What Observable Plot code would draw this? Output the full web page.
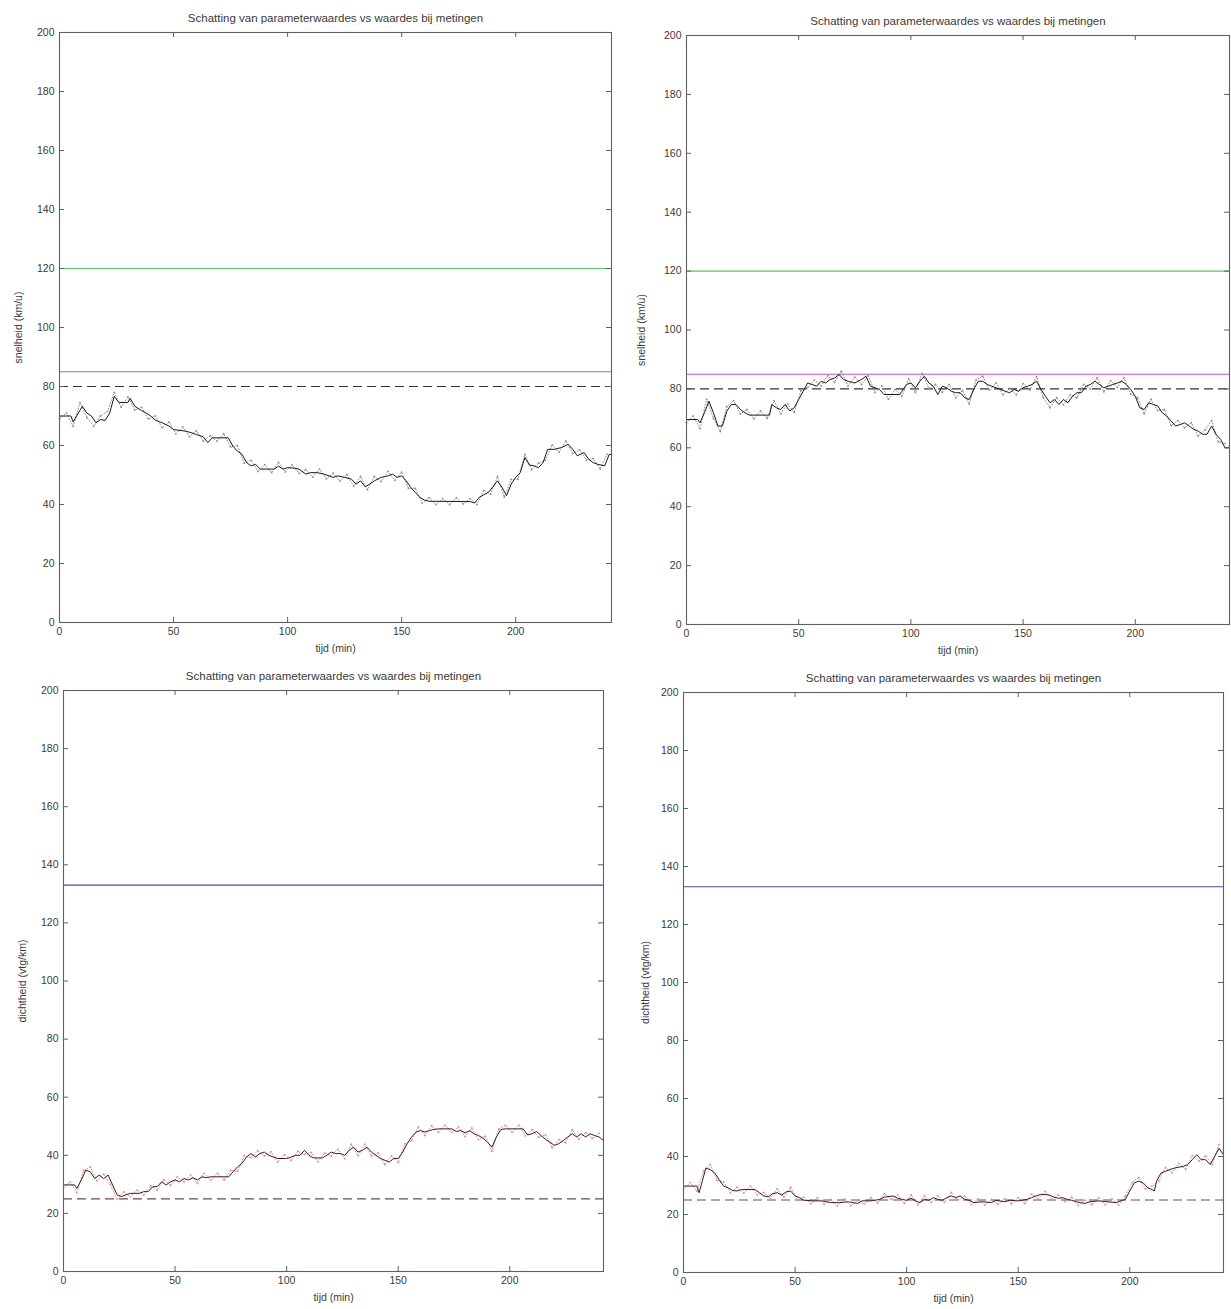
<!DOCTYPE html>
<html>
<head>
<meta charset="utf-8">
<script src="https://cdn.jsdelivr.net/npm/d3@7"></script>
<script src="https://cdn.jsdelivr.net/npm/@observablehq/plot@0.6"></script>
<style>
  body { margin: 0; background: #fff; }
  #fig { position: relative; width: 1231px; height: 1309px; overflow: hidden; }
  .paneel { position: absolute; }
</style>
</head>
<body>
<div id="fig"></div>
<script>
// ---- assen ----
const xTicks = [0, 50, 100, 150, 200];
const yTicks = [0, 20, 40, 60, 80, 100, 120, 140, 160, 180, 200];
const tijdDomein = [0, 242];
const waardeDomein = [0, 200];
const titel = "Schatting van parameterwaardes vs waardes bij metingen";
const xLabel = "tijd (min)";
const yLabelSnelheid = "snelheid (km/u)";
const yLabelDichtheid = "dichtheid (vtg/km)";

// ---- vaste parameters ----
const vrijeSnelheid = 120;          // groen
const kritiekeSnelheidModel = 85;   // magenta
const kritiekeSnelheid = 80;        // gestreept
const jamDichtheid = 133;           // blauw
const kritiekeDichtheid = 25;       // gestreept

// ---- meettijden (elke 3 minuten) ----
const meetTijden = d3.range(0, 241, 3);

// ---- snelheid, links: schatting [tijd, waarde] ----
const snelheidSchattingA = [[0,70],[5,70],[6,68],[10,73.3],[12,71],[14,70],[16,67.7],[18,68.8],[20,68.5],[22,71],[24,76.7],[26,74.6],[30,74.6],[31,76],[33,73.3],[36,71.8],[38,71],[40,70],[42,68.6],[45,67.7],[48,66.6],[50,65.4],[55,64.9],[58,64.3],[60,63.7],[63,63],[65,61],[67,62.6],[74,62.6],[76,59.8],[78,58.1],[80,57],[82,54.2],[84,53.1],[86,53.6],[88,52],[94,52],[96,53],[98,52],[100,52.5],[103,52.3],[105,52],[108,50.3],[110,50.8],[113,50.8],[116,50.3],[120,49.2],[122,49.7],[125,49.2],[128,48.6],[130,46.9],[132,48],[134,46],[136,46.9],[138,48],[141,49.2],[144,49.7],[146,50.3],[148,49.2],[150,49.7],[152,48],[154,45.8],[156,44.1],[158,42.4],[160,41.5],[162,41.1],[180,41],[182,40.5],[184,42.4],[186,43.3],[188,44.1],[190,46],[192,48],[194,45.8],[196,43],[198,46.9],[200,49.2],[202,50.8],[204,55.9],[206,53.4],[208,53.1],[210,52.5],[212,54.2],[214,58.7],[217,58.7],[220,59.3],[223,60.4],[225,58.7],[227,56.5],[230,57.6],[232,55.3],[234,54.2],[236,53.6],[239,53.1],[241,57],[242,57]];
// metingen, elke 3 minuten
const snelheidMetingA = [69,71,66.5,74.5,69.5,66.5,70,71.5,78,73,76.5,72,73,69,70,66,68,64,66.3,63,65,61.5,63.3,61.5,64,59.5,60,54,55,51.2,53.5,50.8,54.3,51,53.5,50.5,51.8,49.3,52,48.7,50.6,48,50.2,46.2,49.5,45,49.5,47.8,51.2,48.2,51,45.5,45.5,40.5,42.3,40,42,40,42.2,40.2,42,40,44.8,43.5,49.5,42.5,48.5,48.6,57,51.8,54,55,60.2,57.7,61.6,57.3,58.5,55,55.6,52,57];

// ---- snelheid, rechts ----
const snelheidSchattingB = [[0,69.6],[5,69.6],[6,68.5],[8,71.9],[10,75.8],[12,71.9],[14,67.4],[16,67.4],[18,72.5],[20,74.7],[22,74.7],[24,73],[26,71.9],[28,71.1],[37,71.1],[38,74.7],[40,73.6],[42,73],[44,74.7],[46,72.5],[48,73.6],[50,76.4],[52,79.2],[54,82],[56,81.5],[58,80.9],[60,82.6],[62,82],[64,83.2],[66,83.7],[68,84.9],[70,83.2],[72,82.6],[75,82],[78,83.2],[80,84.3],[82,80.9],[84,80.4],[86,79.8],[88,78.1],[95,78.1],[96,79.2],[98,81.5],[100,82],[102,80.4],[104,82.6],[106,84.3],[108,82],[110,80.9],[112,78.1],[114,80.9],[116,80.4],[118,79.2],[120,78.7],[122,78.7],[124,77],[126,76.4],[128,79.8],[130,82.6],[132,82.6],[134,81.5],[136,80.9],[138,80.4],[140,79.8],[142,79.2],[144,78.7],[146,79.8],[148,79.2],[150,80.4],[152,80.9],[154,81.5],[156,82.6],[158,79.8],[160,77.5],[162,75.3],[164,76.4],[166,74.7],[168,76.4],[170,75.3],[172,77.5],[174,78.7],[176,78.7],[178,80.9],[180,81.5],[182,82.6],[184,81.5],[186,80.4],[188,80.9],[190,81.5],[192,82],[194,82.6],[196,81.5],[198,79.8],[200,77.5],[202,73.6],[204,73],[206,75.3],[208,74.7],[210,74.2],[212,71.9],[214,70.8],[216,69.1],[218,67.4],[220,67.9],[222,68.5],[224,67.4],[226,66.3],[228,65.7],[230,64.6],[232,64.6],[234,67.4],[236,64.6],[238,62.9],[240,60],[242,60]];
const snelheidMetingB = [68.5,70.8,66.5,76.5,70,65.5,74,76,71.5,73,69.8,72.5,70,76,71.5,75,72,79.5,80.5,83,81,84.5,82.2,86,81,84,81.5,84.5,78.8,81,76.5,79.8,77.5,83.5,78.8,85.3,80.2,81.5,78.8,81.5,77,79.5,74.8,83,84.3,79.6,82,78,80.2,78,81.8,79.6,84.2,77,73.6,77,74.6,78,77,81.5,80,83.8,79,82.8,80.5,83.8,78.2,77,71.5,76.5,72.6,73,67.5,69.2,66.8,68.5,64,66,69.2,62,61.5];

// ---- dichtheid, links ----
const dichtheidSchattingA = [[0,29.8],[5,29.8],[6,28.6],[8,31.5],[10,34.9],[12,34.3],[14,32],[16,33.2],[18,32],[20,33.2],[22,29.8],[24,26.4],[26,25.8],[28,26.4],[30,26.9],[34,26.9],[36,27.5],[38,27.5],[40,29.2],[42,29.2],[44,30.9],[46,29.8],[48,30.9],[50,31.5],[52,30.9],[54,32],[56,31.5],[58,32.3],[60,31.5],[62,32.6],[64,32.3],[66,32.6],[74,32.6],[76,34.3],[78,36],[80,37.2],[82,39.4],[84,40.6],[86,39.4],[88,40.6],[90,41.1],[92,40],[94,39.4],[96,38.9],[100,38.9],[102,39.4],[104,40],[106,40],[108,41.7],[110,40],[112,39.1],[116,39.1],[118,40],[120,41.1],[122,40.6],[124,40.6],[126,40],[128,41.7],[130,42.8],[132,41.1],[134,41.7],[136,42.8],[138,41.1],[140,40],[142,38.9],[144,38.3],[146,37.7],[148,38.9],[150,38.9],[152,41.1],[154,44],[156,46.3],[158,48],[160,48.5],[162,48],[164,48.5],[166,48.9],[168,49.1],[174,49.1],[176,48.2],[178,48.5],[180,47.7],[182,48.5],[184,47.4],[186,46.8],[188,45.9],[190,44.5],[192,42.8],[194,46.3],[196,48.9],[198,49.1],[206,49.1],[208,47],[210,47.4],[212,48.2],[214,46.8],[216,45.5],[218,44.5],[220,43.4],[222,44],[224,45.1],[226,46.3],[228,47.4],[230,46.3],[232,47.4],[234,46.3],[236,47.4],[238,46.8],[240,46.3],[242,45.1]];
const dichtheidMetingA = [28.8,30.8,27.2,34.8,36,31.2,33.6,30,25,27.4,25.8,28,26.3,29.6,28,31.6,29.6,32.6,30.8,33.2,30.3,33.8,31.4,33.8,31.5,34.8,34.5,39.8,39.2,41.6,39.8,41.2,37.7,40.2,38.2,41.4,40.3,41,37.8,40.8,39.8,42,38.8,43.8,39.8,43.8,39.8,40.8,36.8,39.8,37.5,44,45,49.8,46.8,50.2,47.9,50.4,47.9,49.8,46.4,49.4,45.4,46.6,41.4,49,50.3,47.9,50.4,46.7,48.8,46.2,47,42.6,45.4,44.3,48.8,45.5,47.8,45.8,47.6];

// ---- dichtheid, rechts ----
const dichtheidSchattingB = [[0,29.8],[6,29.8],[7,27.5],[8,30.3],[10,36],[12,35.5],[14,34.3],[16,32],[18,29.8],[20,29.2],[22,28.3],[24,28.1],[26,28.6],[32,28.6],[34,27.5],[36,26.4],[38,26.1],[40,27.2],[42,27.5],[44,26.7],[46,27.8],[48,28.1],[50,26.4],[52,25.8],[54,24.9],[58,24.7],[62,24.7],[66,24.1],[70,24.1],[74,24.4],[78,23.8],[80,24.7],[84,24.7],[88,25.2],[90,26],[94,26.4],[96,25.6],[98,25.2],[100,24.9],[102,25.6],[104,24.7],[106,24.1],[108,25.2],[110,24.9],[112,25.8],[114,25.2],[116,24.9],[118,25.8],[120,26.4],[122,25.8],[124,26.4],[126,25.2],[128,24.9],[130,24.1],[134,24.4],[138,24.1],[140,24.9],[144,24.4],[146,24.9],[150,24.7],[154,25.2],[156,25.8],[158,26.4],[160,26.9],[162,26.9],[164,26.7],[166,26],[168,25.6],[170,25.8],[172,25.2],[174,24.9],[176,24.4],[178,24.1],[180,23.8],[182,24.4],[186,24.7],[190,24.4],[194,24.1],[196,24.7],[198,25.2],[200,28.1],[202,30.9],[204,31.5],[206,30.9],[208,29.2],[210,28.6],[211,28.1],[212,31.5],[214,34.3],[216,34.9],[218,35.5],[220,36],[222,36.3],[224,36.6],[226,37.2],[228,38.9],[230,40.6],[232,38.9],[234,38.9],[236,37.2],[238,40],[240,42.8],[242,40.6]];
const dichtheidMetingB = [28.6,31,28,35,37.2,31.8,31.2,27.5,29.4,27.4,29.8,26.8,27.6,25.5,28.8,26,29.4,25,26,23.7,25.8,23.5,25.2,23,25.3,23,24.8,23.6,25.8,24,27.2,25.2,26.8,23.8,26.8,23.3,26.4,24.2,26.4,24.2,27.6,25,26.4,23.4,25.4,23.2,25.2,23.5,25.5,23.7,25.8,23.8,27,25.5,28,25.2,26.8,24.4,26,23.1,24.9,23.4,25.8,23.4,25.4,23.3,26.3,31,32.8,28.8,29.8,31.5,36.2,34.4,37.6,35.6,40.3,38.4,40.2,37.2,44.2];

const FONT = "'Liberation Sans', Arial, Helvetica, sans-serif";
const fig = document.getElementById("fig");

function paneel({left, top, width, height, m, yLabel, yLabelDx, schatting, meting,
                 refs, lijnKleur, meetKleur}) {
  const fh = height - m.top - m.bottom;
  const fw = width - m.left - m.right;
  const metingData = meetTijden.map((t, i) => ({t, v: meting[i]}));
  const asKleur = "#606060";
  const plot = Plot.plot({
    width, height,
    marginLeft: m.left, marginRight: m.right, marginTop: m.top, marginBottom: m.bottom,
    style: {fontFamily: FONT, fontSize: "10.5px", color: "#3a3a3a", background: "transparent", overflow: "visible"},
    x: {domain: tijdDomein, ticks: xTicks, tickSize: 0, tickPadding: 5, label: null},
    y: {domain: waardeDomein, ticks: yTicks, tickSize: 0, tickPadding: 5, label: null},
    marks: [
      ...refs.map(r => Plot.ruleY([r.waarde], {y: d => d, stroke: r.kleur, strokeWidth: 1.1, strokeDasharray: r.streep})),
      Plot.line(metingData, {x: "t", y: "v", stroke: meetKleur, strokeWidth: 1, strokeDasharray: "1,2"}),
      Plot.dot(metingData, {x: "t", y: "v", r: 0.9, fill: meetKleur, stroke: null}),
      Plot.line(schatting, {x: d => d[0], y: d => d[1], stroke: lijnKleur, strokeWidth: 1}),
      // tickmarks naar binnen, op alle vier de zijden
      Plot.tickX(xTicks, {x: d => d, insetTop: fh - 5, stroke: asKleur}),
      Plot.tickX(xTicks, {x: d => d, insetBottom: fh - 5, stroke: asKleur}),
      Plot.tickY(yTicks, {y: d => d, insetRight: fw - 5, stroke: asKleur}),
      Plot.tickY(yTicks, {y: d => d, insetLeft: fw - 5, stroke: asKleur}),
      Plot.frame({stroke: asKleur, strokeWidth: 1.1}),
      Plot.text([titel], {text: d => d, frameAnchor: "top", dy: -14, lineAnchor: "middle", fontSize: 11.5, fill: "#3a3a3a"}),
      Plot.text([xLabel], {text: d => d, frameAnchor: "bottom", dy: 26, lineAnchor: "middle", fontSize: 10.5, fill: "#3a3a3a"}),
      Plot.text([yLabel], {text: d => d, frameAnchor: "left", dx: yLabelDx, rotate: -90, textAnchor: "middle", lineAnchor: "middle", fontSize: 10.5, fill: "#3a3a3a"})
    ]
  });
  const div = document.createElement("div");
  div.className = "paneel";
  div.style.left = left + "px";
  div.style.top = top + "px";
  div.appendChild(plot);
  fig.appendChild(div);
}

const snelheidRefs = [
  {waarde: vrijeSnelheid, kleur: "#5cc45c", streep: null},
  {waarde: kritiekeSnelheidModel, kleur: "#c850c8", streep: null},
  {waarde: kritiekeSnelheid, kleur: "#333", streep: "9,5"}
];
const dichtheidRefs = [
  {waarde: jamDichtheid, kleur: "#4a4aa0", streep: null},
  {waarde: kritiekeDichtheid, kleur: "#6e4a4a", streep: "9,5"}
];

paneel({left: 0, top: 0, width: 620, height: 660, m: {left: 59, right: 9, top: 32, bottom: 38},
  yLabel: yLabelSnelheid, yLabelDx: -41, schatting: snelheidSchattingA, meting: snelheidMetingA,
  refs: snelheidRefs, lijnKleur: "#1a1a1a", meetKleur: "#8f8f8f"});
paneel({left: 620, top: 0, width: 611, height: 660, m: {left: 66, right: 2, top: 35, bottom: 36},
  yLabel: yLabelSnelheid, yLabelDx: -45, schatting: snelheidSchattingB, meting: snelheidMetingB,
  refs: snelheidRefs, lijnKleur: "#1a1a1a", meetKleur: "#8f8f8f"});
paneel({left: 0, top: 660, width: 620, height: 649, m: {left: 63, right: 17, top: 30, bottom: 38},
  yLabel: yLabelDichtheid, yLabelDx: -41, schatting: dichtheidSchattingA, meting: dichtheidMetingA,
  refs: dichtheidRefs, lijnKleur: "#3a1c1c", meetKleur: "#e08a8a"});
paneel({left: 620, top: 660, width: 611, height: 649, m: {left: 63, right: 8, top: 32, bottom: 37},
  yLabel: yLabelDichtheid, yLabelDx: -38, schatting: dichtheidSchattingB, meting: dichtheidMetingB,
  refs: dichtheidRefs, lijnKleur: "#3a1c1c", meetKleur: "#e08a8a"});
</script>
</body>
</html>
